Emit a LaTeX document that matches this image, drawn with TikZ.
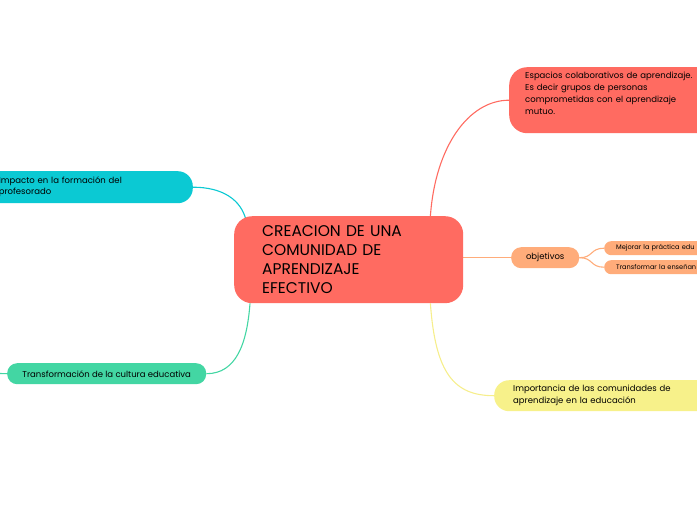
\documentclass[tikz,border=0pt]{standalone}
\usepackage{fontspec}
\setmainfont{Poppins}
\usetikzlibrary{backgrounds}
\definecolor{salmon}{RGB}{255,107,97}
\definecolor{peach}{RGB}{255,172,122}
\definecolor{lemon}{RGB}{247,241,138}
\definecolor{lemonline}{RGB}{246,238,140}
\definecolor{aqua}{RGB}{11,201,211}
\definecolor{mint}{RGB}{67,214,163}
\begin{document}
\begin{tikzpicture}[x=1pt, y=-1pt,
  every node/.style={font=\fontsize{8.5}{12}\selectfont, text=black},
  topic/.style={rounded corners=15pt, inner ysep=0pt, align=left, anchor=north west},
  link/.style={line width=1.1pt}]
  \useasboundingbox (0,0) rectangle (697,520);
  \clip (0,0) rectangle (697,520);
  % central topic
  \node[topic, fill=salmon, rounded corners=18pt, inner xsep=28pt, text width=173pt,
    minimum height=87pt, font=\fontsize{15.5}{19}\selectfont] (central) at (234,216)
    {CREACION DE UNA\\COMUNIDAD DE\\APRENDIZAJE\\EFECTIVO};
  % right side
  \node[topic, fill=salmon, rounded corners=18pt, inner xsep=16pt, text width=180pt,
    minimum height=66pt] (espacios) at (509,67)
    {Espacios colaborativos de aprendizaje.\\Es decir grupos de personas\\comprometidas con el aprendizaje\\mutuo.\rule[-14pt]{0pt}{0pt}};
  \node[topic, fill=peach, rounded corners=10pt, align=center, inner xsep=0pt,
    minimum width=68pt, minimum height=21pt] (objetivos) at (511,247) {objetivos};
  \node[topic, fill=peach, rounded corners=7pt, inner xsep=12pt, minimum height=14pt,
    text width=110pt, font=\fontsize{6.6}{7}\selectfont] (mejorar) at (604,241) {Mejorar la práctica edu};
  \node[topic, fill=peach, rounded corners=7pt, inner xsep=12pt, minimum height=14pt,
    text width=110pt, font=\fontsize{6.6}{7}\selectfont] (transformar) at (604,260) {Transformar la enseñan};
  \node[topic, fill=lemon, inner xsep=19pt, text width=190pt, minimum height=31pt]
    (importancia) at (494,380) {Importancia de las comunidades de\\aprendizaje en la educación};
  % left side
  \node[topic, fill=aqua, anchor=north east, inner xsep=19pt, text width=175pt,
    minimum height=32pt, font=\fontsize{8.5}{11}\selectfont] (impacto) at (193,171)
    {Impacto en la formación del\\profesorado};
  \node[topic, fill=mint, rounded corners=10pt, align=center, inner xsep=0pt,
    minimum width=199pt, minimum height=21pt] (cultura) at (7,363)
    {Transformación de la cultura educativa};
  \coordinate (stub) at (0,373.5);
  % connectors
  \begin{scope}[on background layer]
    \draw[link, salmon] ([xshift=-33pt]central.north east) .. controls +(5,-70) and +(-40,0) .. (espacios.west);
    \draw[link, lemonline] ([xshift=-33pt]central.south east) .. controls +(5,70) and +(-40,0) .. (importancia.west);
    \draw[link, peach] (central.east |- objetivos.west) -- (objetivos.west);
    \draw[link, peach] (objetivos.east) .. controls +(14,0) and +(-14,0) .. (mejorar.west);
    \draw[link, peach] (objetivos.east) .. controls +(14,0) and +(-14,0) .. (transformar.west);
    \draw[link, aqua] (impacto.east) .. controls +(30,0) and +(-5,-20) .. ([xshift=12pt,yshift=-4pt]central.north west);
    \draw[link, mint] (cultura.east) .. controls +(30,0) and +(-3,40) .. ([xshift=16pt]central.south west);
    \draw[link, mint] (stub) -- (cultura.west);
  \end{scope}
\end{tikzpicture}
\end{document}
